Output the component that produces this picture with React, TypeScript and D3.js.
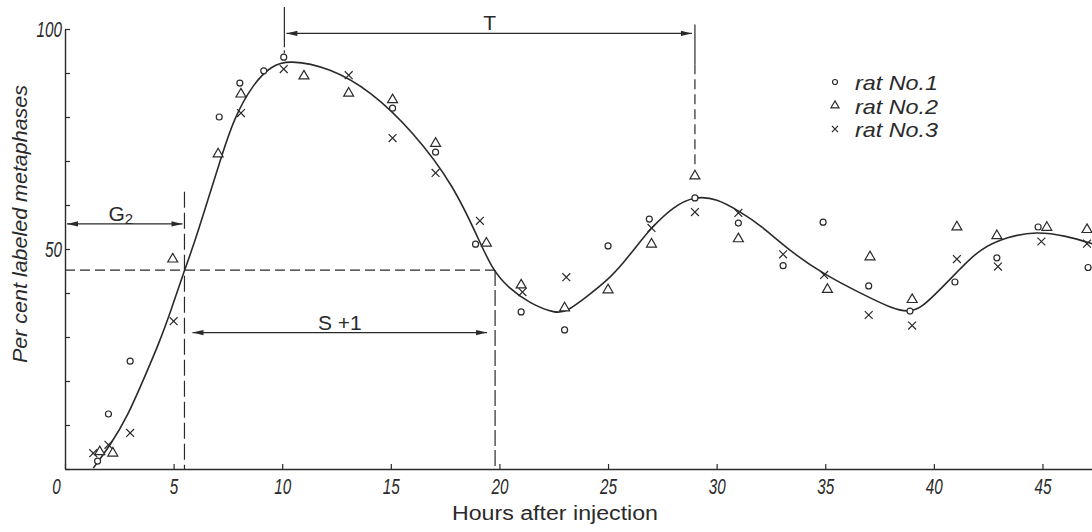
import React, { useEffect, useRef } from 'react'
import * as d3 from 'd3'

const W = 1092
const H = 532

// [hours after injection, per cent labeled metaphases]
const rat1: [number, number][] = [
  [1.5, 1.8], [2.0, 12.5], [3.0, 24.5], [7.1, 80], [8.05, 87.7], [9.15, 90.5],
  [10.07, 93.6], [15.08, 82], [17.06, 72], [18.9, 51.1], [21.0, 35.7], [23.0, 31.6],
  [25.0, 50.7], [26.9, 56.8], [29.0, 61.6], [31.0, 55.9], [33.06, 46.2], [34.9, 56.1],
  [37.0, 41.6], [38.9, 35.9], [40.97, 42.5], [42.9, 48], [44.8, 55], [47.1, 45.8],
]

const rat2: [number, number][] = [
  [1.6, 3.9], [2.2, 3.6], [4.96, 47.7], [7.05, 71.6], [8.1, 85.2], [11.0, 89.3],
  [13.06, 85.4], [15.08, 83.9], [17.06, 74], [19.4, 51.3], [21.0, 41.8], [23.0, 36.6],
  [25.0, 40.7], [27.0, 51.1], [29.0, 66.6], [31.0, 52.3], [35.1, 40.8], [37.06, 48.2],
  [39.0, 38.5], [41.06, 55], [42.9, 53], [45.2, 54.9], [47.05, 54.4],
]

const rat3: [number, number][] = [
  [1.3, 3.6], [2.0, 5.5], [3.0, 8.2], [5.0, 33.6], [8.1, 80.9], [10.07, 90.9],
  [13.06, 89.5], [15.08, 75.2], [17.06, 67.3], [19.1, 56.4], [21.06, 40.2], [23.08, 43.6],
  [27.0, 54.8], [29.0, 58.4], [31.0, 58.2], [33.06, 48.8], [34.95, 44.1], [37.0, 35],
  [39.0, 32.6], [41.06, 47.7], [42.95, 46], [44.95, 51.7], [47.05, 51.2],
]

// hand-drawn fitted curve
const fittedCurve: [number, number][] = [
  [1.3, 0.2], [1.3, 0.2], [2.1, 5.5], [2.9, 12.2], [3.6, 20.2], [4.3, 28.2], [4.9, 36.3], [5.5, 45.2],
  [5.9, 50.5], [6.6, 61.5], [7.2, 71], [7.8, 80], [8.7, 87.8], [9.5, 91.6], [10.3, 93],
  [12.2, 91.2], [14.1, 85.8], [16.0, 76.8], [17.9, 64.5], [19.1, 51.5], [19.7, 45.2],
  [20.4, 41.2], [21.4, 37.6], [22.6, 35.3], [23.1, 35.8], [24.0, 39.1], [25.0, 43],
  [25.7, 46.8], [26.5, 51.8], [26.9, 54.3], [28.0, 59.7], [29.0, 62], [30.0, 61.5],
  [31.1, 58.4], [32.0, 55.5], [33.5, 49], [35.0, 44.1], [36.6, 40], [38.1, 36.4],
  [38.8, 35.7], [39.4, 36.4], [40.4, 41.4], [41.2, 45.4], [42.1, 50], [43.4, 52.8],
  [44.7, 54], [46.1, 53], [47.3, 51.2], [47.3, 51.2],
]

const xTicks = [0, 5, 10, 15, 20, 25, 30, 35, 40, 45]
const yTicks = [0, 10, 20, 30, 40, 50, 60, 70, 80, 90, 100]
const yLabels = [50, 100]
const legendLabels = ['rat No.1', 'rat No.2', 'rat No.3']

// phase markers (hours / per cent)
const g2End = 5.5
const sEnd = 19.8
const tStart = 10.1
const tEnd = 29.0
const halfLevel = 45.2
const g2Level = 55.7
const sLevel = 31
const tLevel = 99

export default function App() {
  const ref = useRef<SVGSVGElement>(null)

  useEffect(() => {
    if (!ref.current) return
    const svg = d3.select(ref.current)
    svg.selectAll('*').remove()

    const ink = '#2a2a2a'
    const font = "'Liberation Sans', Arial, sans-serif"

    const x = d3.scaleLinear().domain([0, 47.28]).range([65, W])
    const y = d3.scaleLinear().domain([0, 100]).range([469, 29])

    svg.append('rect').attr('width', W).attr('height', H).attr('fill', '#fff')

    // axes
    const gx = svg.append('g')
      .attr('transform', `translate(0,${y(0)})`)
      .call(d3.axisBottom(x).tickValues(xTicks).tickSizeInner(-5).tickSizeOuter(0)
        .tickPadding(9).tickFormat(d3.format('d')))
    gx.selectAll('text').filter((d) => d === 0).attr('dx', -9)

    const gy = svg.append('g')
      .attr('transform', `translate(${x(0)},0)`)
      .call(d3.axisLeft(y).tickValues(yTicks).tickSizeInner(-5).tickSizeOuter(0)
        .tickPadding(3).tickFormat((d) => (yLabels.includes(+d) ? String(d) : '')))

    for (const g of [gx, gy]) {
      g.select('.domain').attr('stroke', ink).attr('stroke-width', 1.4)
      g.selectAll('.tick line').attr('stroke', ink).attr('stroke-width', 1.2)
      g.selectAll<SVGTextElement, number>('text')
        .attr('fill', ink)
        .attr('font-family', font)
        .attr('font-size', 22)
        .attr('font-style', 'italic')
        .each(function () {
          const n = (this.textContent || '').length
          if (n) d3.select(this).attr('textLength', n * 8.5).attr('lengthAdjust', 'spacingAndGlyphs')
        })
    }

    // dashed guide lines
    const guide = svg.append('g').attr('stroke', ink).attr('stroke-width', 1.2).attr('fill', 'none')
    guide.append('line')
      .attr('x1', x(0)).attr('x2', x(sEnd)).attr('y1', y(halfLevel)).attr('y2', y(halfLevel))
      .attr('stroke-dasharray', '10,5')
    guide.append('line')
      .attr('x1', x(g2End)).attr('x2', x(g2End)).attr('y1', y(63)).attr('y2', y(0))
      .attr('stroke-dasharray', '16,5')
    guide.append('line')
      .attr('x1', x(sEnd)).attr('x2', x(sEnd)).attr('y1', y(halfLevel)).attr('y2', y(0))
      .attr('stroke-dasharray', '16,4')
    guide.append('line')
      .attr('x1', x(tStart)).attr('x2', x(tStart)).attr('y1', y(105)).attr('y2', y(97))
    guide.append('line')
      .attr('x1', x(tStart)).attr('x2', x(tStart)).attr('y1', y(97)).attr('y2', y(94.5))
      .attr('stroke-dasharray', '5,3')
    guide.append('line')
      .attr('x1', x(tEnd)).attr('x2', x(tEnd)).attr('y1', y(101)).attr('y2', y(92))
    guide.append('line')
      .attr('x1', x(tEnd)).attr('x2', x(tEnd)).attr('y1', y(92)).attr('y2', y(68.5))
      .attr('stroke-dasharray', '10,5')

    // arrows
    const arrow = (a: number, b: number, level: number) => {
      const yy = y(level)
      const g = svg.append('g')
      g.append('line').attr('x1', a).attr('x2', b).attr('y1', yy).attr('y2', yy)
        .attr('stroke', ink).attr('stroke-width', 1.1)
      g.append('path').attr('d', `M${a},${yy}L${a + 11},${yy - 2.6}L${a + 11},${yy + 2.6}Z`).attr('fill', ink)
      g.append('path').attr('d', `M${b},${yy}L${b - 11},${yy - 2.6}L${b - 11},${yy + 2.6}Z`).attr('fill', ink)
    }
    arrow(x(0) + 2, x(g2End) - 2, g2Level)
    arrow(x(g2End) + 8, x(sEnd) - 8, sLevel)
    arrow(x(tStart) + 2, x(tEnd) - 3, tLevel)

    const label = (t: string, cx: number, by: number) =>
      svg.append('text').attr('x', cx).attr('y', by).attr('text-anchor', 'middle')
        .attr('fill', ink).attr('font-family', font).attr('font-size', 21).text(t)

    const g2 = label('G', x(2.75) - 4, 221)
    g2.append('tspan').attr('font-size', 15).attr('dy', 3).text('2')
    label('S +1', (x(g2End) + x(sEnd)) / 2, 330)
    label('T', (x(tStart) + x(tEnd)) / 2, 30)

    // fitted curve
    const line = d3.line<[number, number]>()
      .x((d) => x(d[0]))
      .y((d) => y(d[1]))
      .curve(d3.curveBasis)
    svg.append('path').datum(fittedCurve).attr('d', line)
      .attr('fill', 'none').attr('stroke', ink).attr('stroke-width', 1.6)

    // data markers
    const pts = svg.append('g').attr('stroke', ink).attr('fill', '#fff').attr('stroke-width', 1.2)
    pts.selectAll('circle.r1').data(rat1).join('circle')
      .attr('cx', (d) => x(d[0])).attr('cy', (d) => y(d[1])).attr('r', 3)
    const tri = d3.symbol().type(d3.symbolTriangle).size(43)
    pts.selectAll('path.r2').data(rat2).join('path')
      .attr('transform', (d) => `translate(${x(d[0])},${y(d[1])})`).attr('d', tri())
    const cross = d3.symbol().type(d3.symbolTimes).size(42)
    pts.selectAll('path.r3').data(rat3).join('path')
      .attr('transform', (d) => `translate(${x(d[0])},${y(d[1])})`).attr('d', cross())

    // legend
    const legend = svg.append('g').attr('transform', 'translate(835,82)')
    legendLabels.forEach((t, i) => {
      const row = legend.append('g').attr('transform', `translate(0,${i * 23.5})`)
      if (i === 0) row.append('circle').attr('r', 2.5).attr('fill', '#fff').attr('stroke', ink).attr('stroke-width', 1.2)
      if (i === 1) row.append('path').attr('d', d3.symbol().type(d3.symbolTriangle).size(28)()).attr('fill', '#fff').attr('stroke', ink).attr('stroke-width', 1.2)
      if (i === 2) row.append('path').attr('d', d3.symbol().type(d3.symbolTimes).size(26)()).attr('stroke', ink).attr('stroke-width', 1.2)
      row.append('text').attr('x', 20).attr('y', 8).attr('fill', ink)
        .attr('font-family', font).attr('font-size', 21).attr('font-style', 'italic')
        .attr('textLength', 83).attr('lengthAdjust', 'spacingAndGlyphs').text(t)
    })

    // axis titles
    svg.append('text').attr('transform', 'translate(27,224) rotate(-90)')
      .attr('text-anchor', 'middle').attr('fill', ink).attr('font-family', font)
      .attr('font-size', 20).attr('font-style', 'italic')
      .attr('textLength', 278).attr('lengthAdjust', 'spacingAndGlyphs')
      .text('Per cent labeled metaphases')
    svg.append('text').attr('x', 555).attr('y', 520)
      .attr('text-anchor', 'middle').attr('fill', ink).attr('font-family', font)
      .attr('font-size', 20)
      .attr('textLength', 206).attr('lengthAdjust', 'spacingAndGlyphs')
      .text('Hours after injection')
  }, [])

  return (
    <svg ref={ref} width={W} height={H} style={{ position: 'absolute', left: 0, top: 0 }} />
  )
}
